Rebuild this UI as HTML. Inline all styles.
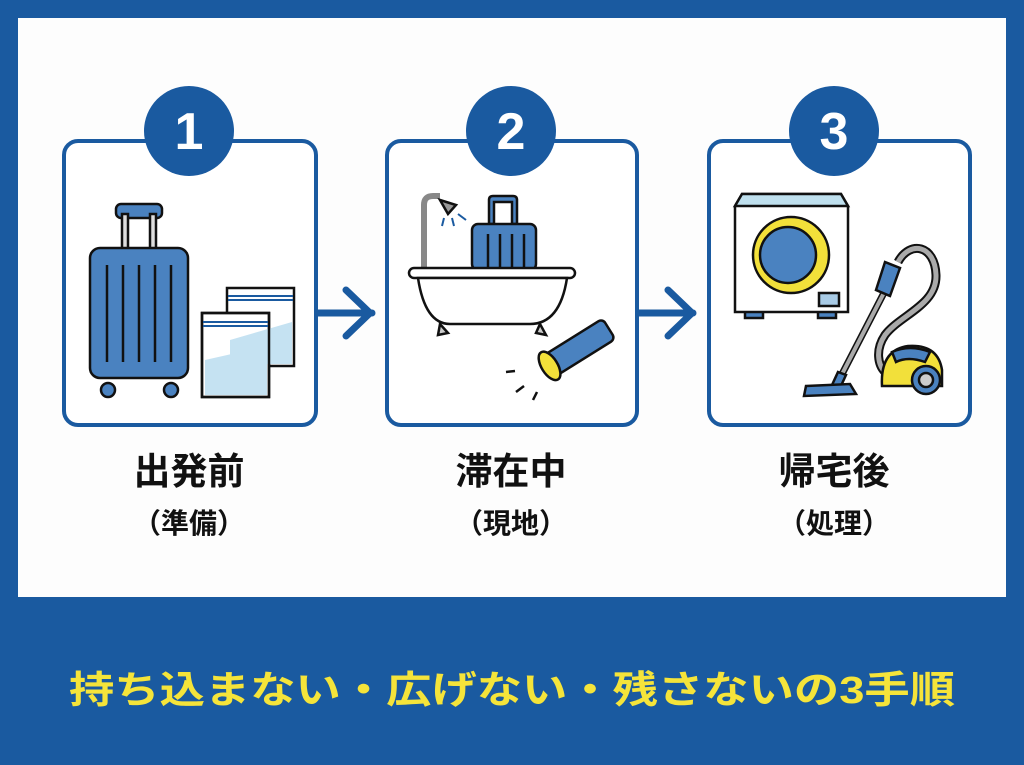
<!DOCTYPE html>
<html><head><meta charset="utf-8"><style>
html,body{margin:0;padding:0;background:#1a5aa0;}
svg{display:block}
text{font-family:"Liberation Sans","Noto Sans CJK JP",sans-serif;font-weight:bold}
</style></head><body>
<svg width="1024" height="765" viewBox="0 0 1024 765" xmlns="http://www.w3.org/2000/svg">
<rect width="1024" height="765" fill="#1a5aa0"/>
<rect x="18" y="18" width="988" height="579" fill="#fdfdfd"/>
<g fill="#fff" stroke="#1a5aa0" stroke-width="4">
<rect x="64" y="141" width="252" height="284" rx="14"/>
<rect x="387" y="141" width="250" height="284" rx="14"/>
<rect x="709" y="141" width="261" height="284" rx="14"/>
</g>
<g stroke="#1a5aa0" stroke-width="7" fill="none" stroke-linecap="round" stroke-linejoin="round">
<line x1="318" y1="313" x2="372" y2="313"/><polyline points="346,290 370,313 346,336"/>
<line x1="639" y1="313" x2="693" y2="313"/><polyline points="668,290 692,313 668,336"/>
</g>
<g fill="#1a5aa0">
<circle cx="189" cy="131" r="45"/><circle cx="511" cy="131" r="45"/><circle cx="834" cy="131" r="45"/>
</g>
<g fill="#fff" font-size="52" text-anchor="middle">
<text x="189" y="149">1</text><text x="511" y="149">2</text><text x="834" y="149">3</text>
</g>
<!-- suitcase 1 -->
<g stroke="#111" stroke-width="2.5">
<rect x="116" y="204" width="46" height="14" rx="5" fill="#4a82c0"/>
<rect x="122" y="214" width="6" height="36" fill="#ddd"/><rect x="150" y="214" width="6" height="36" fill="#ddd"/>
<rect x="90" y="248" width="98" height="130" rx="10" fill="#4a82c0"/>
<line x1="107" y1="265" x2="107" y2="362"/><line x1="123" y1="265" x2="123" y2="362"/><line x1="139" y1="265" x2="139" y2="362"/><line x1="155" y1="265" x2="155" y2="362"/><line x1="171" y1="265" x2="171" y2="362"/>
<circle cx="108" cy="390" r="7" fill="#4a82c0"/><circle cx="171" cy="390" r="7" fill="#4a82c0"/>
<rect x="227" y="288" width="67" height="78" fill="#fff"/>
<rect x="202" y="313" width="67" height="84" fill="#fff"/>
</g>
<polygon points="230,340 292,322 292,364 230,364" fill="#c5e2f2"/>
<polygon points="205,360 267,346 267,395 205,395" fill="#c5e2f2"/>
<rect x="202" y="313" width="67" height="84" fill="none" stroke="#111" stroke-width="2.5"/>
<g stroke="#1a5aa0" stroke-width="2"><line x1="228" y1="296" x2="293" y2="296"/><line x1="228" y1="300" x2="293" y2="300"/><line x1="203" y1="322" x2="268" y2="322"/><line x1="203" y1="326" x2="268" y2="326"/></g>
<!-- bath 2 -->
<g stroke="#111" stroke-width="2.5">
<path d="M424,270 V205 Q424,196 433,196 H440" fill="none" stroke="#888" stroke-width="6"/>
<path d="M440,200 L456,205 L448,214 Z" fill="#999"/>
<path d="M489,224 V200 Q489,196 493,196 H513 Q517,196 517,200 V224 H512 V202 H494 V224 Z" fill="#4a82c0"/>
<rect x="472" y="224" width="64" height="46" rx="6" fill="#4a82c0"/>
<line x1="488" y1="234" x2="488" y2="268"/><line x1="500" y1="234" x2="500" y2="268"/><line x1="512" y1="234" x2="512" y2="268"/><line x1="524" y1="234" x2="524" y2="268"/>
<rect x="409" y="268" width="166" height="10" rx="5" fill="#fff"/>
<path d="M418,278 Q425,324 450,324 H530 Q560,324 567,278 Z" fill="#fff"/>
<path d="M440,324 L438,335 L448,333 Z" fill="#ccc"/><path d="M540,324 L546,335 L536,333 Z" fill="#ccc"/>
<g transform="rotate(-32 575 350)"><rect x="545" y="338" width="70" height="24" rx="5" fill="#4a82c0"/><ellipse cx="545" cy="350" rx="8" ry="16" fill="#f2e03a"/></g>
</g>
<g stroke="#1a5aa0" stroke-width="2"><line x1="444" y1="218" x2="442" y2="226"/><line x1="452" y1="218" x2="454" y2="226"/><line x1="458" y1="214" x2="466" y2="220"/></g>
<g stroke="#111" stroke-width="2.5"><line x1="506" y1="372" x2="515" y2="371"/><line x1="516" y1="392" x2="524" y2="386"/><line x1="533" y1="400" x2="537" y2="392"/></g>
<!-- washer 3 -->
<g stroke="#111" stroke-width="2.5">
<rect x="745" y="310" width="18" height="8" fill="#4a82c0"/><rect x="818" y="310" width="18" height="8" fill="#4a82c0"/>
<path d="M735,206 L742,194 H841 L848,206 V312 H735 Z" fill="#fff"/>
<path d="M735,206 L742,194 H841 L848,206 Z" fill="#bfe0ee"/>
<circle cx="791" cy="255" r="38" fill="#f2e03a"/>
<circle cx="788" cy="255" r="28" fill="#4a82c0"/>
<rect x="819" y="293" width="20" height="13" fill="#a8cbe6"/>
<!-- vacuum -->
<path d="M898,262 C910,240 935,245 936,275 C937,305 900,315 885,335 C875,350 878,365 885,372" fill="none" stroke="#111" stroke-width="9"/>
<path d="M898,262 C910,240 935,245 936,275 C937,305 900,315 885,335 C875,350 878,365 885,372" fill="none" stroke="#aaa" stroke-width="5"/>
<line x1="888" y1="285" x2="840" y2="378" stroke="#111" stroke-width="7"/>
<line x1="888" y1="285" x2="840" y2="378" stroke="#aaa" stroke-width="4"/>
<path d="M885,262 L900,268 L890,296 L876,290 Z" fill="#4a82c0"/>
<path d="M838,372 L846,375 L840,388 L832,385 Z" fill="#4a82c0"/>
<path d="M806,386 L850,384 L856,394 L804,396 Z" fill="#4a82c0"/>
<path d="M882,386 Q880,350 908,346 Q938,344 942,370 L942,386 Z" fill="#f2e03a"/>
<path d="M892,352 Q910,344 930,352 L925,362 Q908,356 896,362 Z" fill="#4a82c0"/>
<circle cx="926" cy="380" r="14" fill="#4a82c0"/><circle cx="926" cy="380" r="7" fill="#ccc"/>
</g>
<g fill="#111" text-anchor="middle">
<text x="189" y="484" font-size="37">出発前</text>
<text x="189" y="533" font-size="28">（準備）</text>
<text x="511" y="484" font-size="37">滞在中</text>
<text x="511" y="533" font-size="28">（現地）</text>
<text x="834" y="484" font-size="37">帰宅後</text>
<text x="834" y="533" font-size="28">（処理）</text>
</g>
<text x="512" y="703" fill="#f5e43a" font-size="38" text-anchor="middle" textLength="886" lengthAdjust="spacingAndGlyphs">持ち込まない・広げない・残さないの3手順</text>
</svg>
</body></html>
